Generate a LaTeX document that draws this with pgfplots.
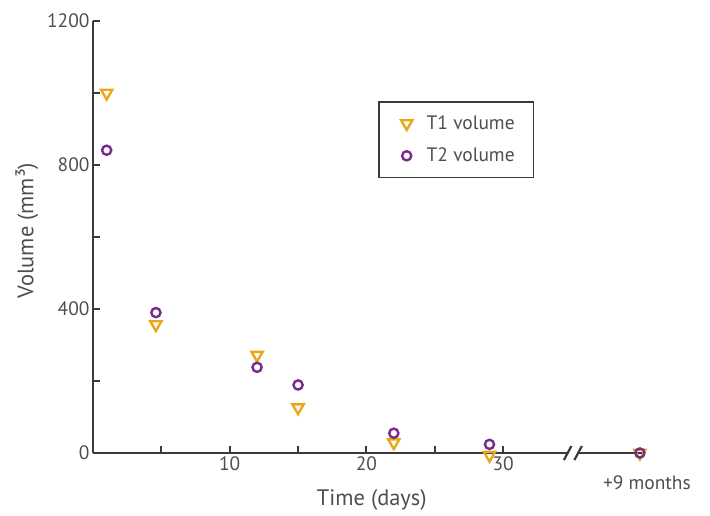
\documentclass[border=0pt]{standalone}
\usepackage{fontspec}
\setmainfont{PT Sans}
\usepackage{pgfplots}
\pgfplotsset{compat=1.18}
\definecolor{tone}{HTML}{E8A818}
\definecolor{ttwo}{HTML}{7A2A8C}
\definecolor{txt}{HTML}{4E4E4E}
\definecolor{axc}{HTML}{3A3A3A}
\begin{document}
\begin{tikzpicture}[x=1bp,y=1bp]
\begin{axis}[
 at={(0,0)}, anchor=south west,
 scale only axis, width=551bp, height=432bp,
 xmin=0, xmax=40.3, ymin=0, ymax=1200,
 axis lines=left, axis line style={axc, line width=2.4bp, -},
 clip=false,
 tick style={axc, line width=2bp},
 tick align=inside, major tick length=7bp,
 xtick={5,10,...,30}, xticklabels={,10,,20,,30},
 ytick={0,200,...,1200}, yticklabels={0,,400,,800,,1200},
 ticklabel style={font=\fontsize{19.5}{22}\selectfont, text=txt},
 /pgf/number format/assume math mode=true,
 xlabel={Time (days)}, ylabel={Volume (mm³)},
 label style={font=\fontsize{22.5}{26}\selectfont, text=txt},
 x label style={at={(axis description cs:0.506,-0.109)}, anchor=center},
 y label style={at={(axis description cs:-0.120,0.515)}, anchor=center},
 legend style={at={(axis cs:20.83,978)}, anchor=north west, draw=axc, line width=1.8bp,
   font=\fontsize{19.5}{22}\selectfont, text=txt, inner xsep=6bp, inner ysep=12bp, row sep=13bp},
 legend cell align=left,
 legend image code/.code={\path[draw=none] (0bp,0bp) -- (40bp,0bp);
   \path[#1, draw=none] plot coordinates {(22bp,0bp)};},
]
\addplot[only marks, mark=triangle, mark size=6.5bp, mark options={tone, draw=tone, line width=2.4bp, rotate=180, fill=white}]
 coordinates {(1,1000) (4.6,357) (12,272) (15,126) (22,29) (29,-6) (40,0)};
\addlegendentry{T1 volume\hspace{11bp}\mbox{}}
\addplot[only marks, mark=o, mark size=4.6bp, mark options={ttwo, draw=ttwo, line width=2.4bp}]
 coordinates {(1,841) (4.6,390) (12,238) (15,189) (22,55) (29,24) (40,0)};
\addlegendentry{T2 volume\hspace{11bp}\mbox{}}
\fill[white] ([xshift=-4.5bp,yshift=-2.5bp]axis cs:35.1,0) rectangle ([xshift=4.5bp,yshift=2.5bp]axis cs:35.1,0);
\draw[axc, line width=2.2bp] ([xshift=-9bp,yshift=-7bp]axis cs:35.1,0) -- ([xshift=-1.5bp,yshift=7bp]axis cs:35.1,0);
\draw[axc, line width=2.2bp] ([xshift=1.5bp,yshift=-7bp]axis cs:35.1,0) -- ([xshift=9bp,yshift=7bp]axis cs:35.1,0);
\node[font=\fontsize{19.5}{22}\selectfont, text=txt] at ([xshift=7bp,yshift=-30bp]axis cs:40,0) {+9 months};
\end{axis}
\path[use as bounding box] (-93bp,-63bp) rectangle (617bp,453bp);
\end{tikzpicture}
\end{document}
